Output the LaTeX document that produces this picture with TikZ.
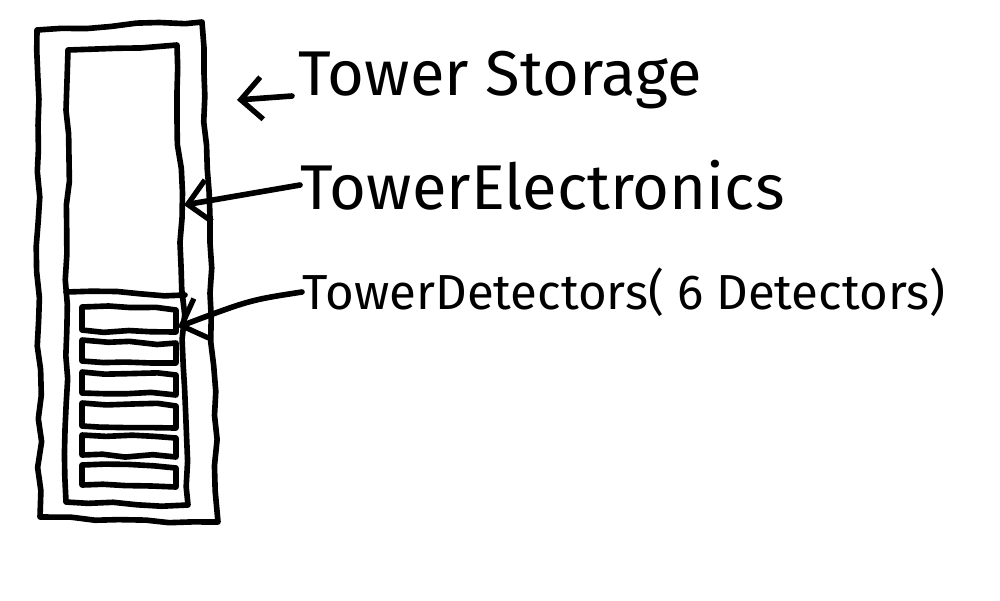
\documentclass[tikz,border=0pt]{standalone}
\usepackage{fontspec}
\setmainfont{Fira Sans}
\usetikzlibrary{decorations.pathmorphing,arrows.meta}

\tikzstyle{sketch} = [line width=1.6pt, line join=round, line cap=round,
  decorate, decoration={random steps,segment length=7pt,amplitude=0.6pt}]
\tikzstyle{callout} = [line width=1.6pt, line cap=round,
  -{Straight Barb[length=6pt,width=12pt,line width=1.5pt]}]
\tikzstyle{label} = [anchor=west, inner sep=0pt, font=\fontsize{18}{22}\selectfont]

\begin{document}
\begin{tikzpicture}[x=1cm,y=-1cm]
	\pgfmathsetseed{7}
	\useasboundingbox (0,0) rectangle (10,6);
	\draw[sketch] (0.37,0.30) -- (2.02,0.22) -- (2.18,5.22) -- (0.40,5.17) -- cycle;
	\draw[sketch] (0.68,0.50) -- (1.77,0.45) -- (1.88,5.05) -- (0.66,5.02) -- cycle;
	\draw[sketch] (0.66,2.92) -- (1.85,2.95);
	\foreach \top/\bot in {3.07/3.32,3.40/3.63,3.72/3.95,4.03/4.28,4.35/4.57,4.65/4.87}
		\draw[sketch] (0.82,\top) -- (1.76,\top+0.03) -- (1.76,\bot) -- (0.82,\bot-0.02) -- cycle;
	\coordinate (storagetip) at (2.37,1.00);
	\coordinate (electip) at (1.84,2.05);
	\coordinate (dettip) at (1.78,3.27);
	\node[label] (storage) at (2.98,0.80) {Tower Storage};
	\node[label] (elec) at (3.00,1.85) {TowerElectronics};
	\node[label,font=\fontsize{14}{17}\selectfont] (det) at (3.02,2.92) {TowerDetectors( 6 Detectors)};
	\draw[callout] (storage.west) ++(-0.06,0.16) -- (storagetip);
	\draw[callout] (elec.west) -- (electip);
	\draw[callout] (det.west) .. controls (2.50,3.00) .. (dettip);
\end{tikzpicture}
\end{document}
